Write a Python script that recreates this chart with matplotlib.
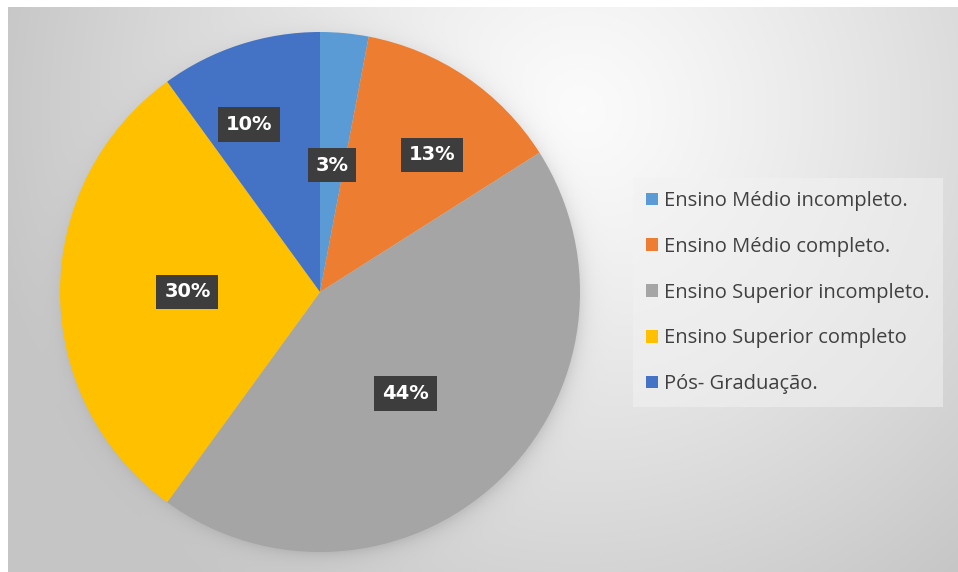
import numpy as np
import matplotlib.pyplot as plt
from matplotlib.patches import Patch

categorias = ["Ensino Médio incompleto.", "Ensino Médio completo.",
              "Ensino Superior incompleto.", "Ensino Superior completo",
              "Pós- Graduação."]
valores = [3, 13, 44, 30, 10]
cores = ["#5B9BD5", "#ED7D31", "#A5A5A5", "#FFC000", "#4472C4"]
# posição dos rótulos: fração do raio e deslocamento angular (graus)
raio_rotulo = [0.49, 0.68, 0.51, 0.51, 0.70]
desloc_ang = [0, -5, -3, 0, 5]

W, H = 958, 572
fig = plt.figure(figsize=(W / 100, H / 100), dpi=100)
fig.patch.set_facecolor("white")

# fundo com gradiente radial e sombra suave da pizza
cx, cy, R = 320, 292, 260
yy, xx = np.mgrid[0:H, 0:W]
d = np.hypot(xx - 580, (yy - 110) * 1.0)
v = 0.985 - 0.21 * np.clip(d / 600, 0, 1) ** 1.2
dp = np.hypot(xx - cx - 3, yy - cy - 4)
sombra = np.where(dp > R - 10, np.exp(-np.clip(dp - R + 4, 0, None) / 9.0), 1.0)
v = v * (1 - 0.11 * sombra)
v[:7, :] = 1.0
v[:, :8] = 1.0
bg = fig.add_axes([0, 0, 1, 1])
bg.imshow(np.dstack([v, v, v]), extent=(0, W, H, 0), interpolation="bilinear")
bg.set_xlim(0, W)
bg.set_ylim(H, 0)
bg.axis("off")

ax = fig.add_axes([(cx - R) / W, (H - cy - R) / H, 2 * R / W, 2 * R / H])
wedges, _ = ax.pie(valores, colors=cores, startangle=90, counterclock=False,
                   radius=1.0, wedgeprops=dict(linewidth=0))
ax.set_xlim(-1, 1)
ax.set_ylim(-1, 1)
ax.set_aspect("equal")
ax.axis("off")

for w, val, r, da in zip(wedges, valores, raio_rotulo, desloc_ang):
    ang = np.deg2rad((w.theta1 + w.theta2) / 2 + da)
    ax.text(r * np.cos(ang), r * np.sin(ang), f"{val}%", ha="center", va="center",
            color="white", fontsize=14, fontweight="bold", family="DejaVu Sans",
            bbox=dict(boxstyle="square,pad=0.4", facecolor="#3d3d3d", edgecolor="none"))

handles = [Patch(facecolor=c, edgecolor="none") for c in cores]
leg = fig.legend(handles, categorias, loc="upper left",
                 bbox_to_anchor=(633 / W, (H - 178) / H), bbox_transform=fig.transFigure,
                 frameon=True, fancybox=False, prop={"family": "Open Sans", "size": 14.5},
                 handlelength=0.6, handleheight=0.6, handletextpad=0.3,
                 labelspacing=1.28, borderpad=0.65, borderaxespad=0)
leg.get_frame().set_facecolor("#f2f2f2")
leg.get_frame().set_alpha(0.55)
leg.get_frame().set_edgecolor("none")
for t in leg.get_texts():
    t.set_color("#404040")

fig.savefig("out.png", dpi=100)
